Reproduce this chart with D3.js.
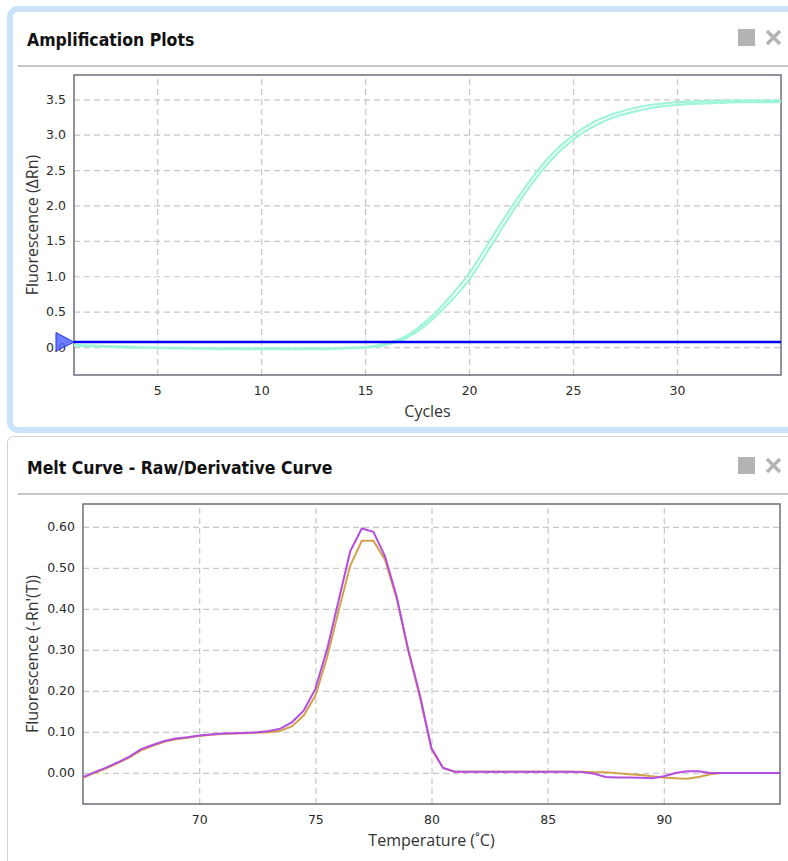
<!DOCTYPE html>
<html>
<head>
<meta charset="utf-8">
<script src="https://cdn.jsdelivr.net/npm/d3@7"></script>
<style>
  body { margin: 0; background: #fff; }
  .tick text { font-family: "DejaVu Sans", sans-serif; font-size: 12.5px; fill: #2a2a2a; }
  .grid line { stroke: #c8c8c8; stroke-width: 1.2; stroke-dasharray: 6,4; }
  .grid path, .axis path { display: none; }
  .axis line { display: none; }
  .title { font-family: "DejaVu Sans Condensed", "DejaVu Sans", sans-serif; font-weight: bold; font-size: 17.5px; fill: #111; }
  .atitle { font-family: "Open Sans", sans-serif; font-size: 16px; fill: #333; }
</style>
</head>
<body>
<svg id="chart" width="788" height="861"></svg>
<script>
// amplification data
const cycles = [1,2,3,4,5,6,7,8,9,10,11,12,13,14,15,16,17,18,19,20,21,22,23,24,25,26,27,28,29,30,31,32,33,34,35];
const wellA = [0.03,0.02,0.01,0.0,-0.01,-0.01,-0.02,-0.02,-0.02,-0.02,-0.02,-0.02,-0.02,-0.01,0.0,0.05,0.16,0.38,0.68,1.04,1.50,1.96,2.38,2.73,2.99,3.18,3.30,3.38,3.43,3.46,3.47,3.48,3.48,3.48,3.48];
const wellB = [0.02,0.01,0.0,-0.01,-0.01,-0.02,-0.02,-0.03,-0.03,-0.03,-0.03,-0.03,-0.03,-0.02,-0.01,0.03,0.13,0.33,0.61,0.95,1.40,1.87,2.30,2.66,2.93,3.12,3.25,3.33,3.39,3.42,3.44,3.45,3.46,3.46,3.46];
const threshold = 0.07;
const ampXTicks = [5,10,15,20,25,30];
const ampYTicks = [0.0,0.5,1.0,1.5,2.0,2.5,3.0,3.5];

// melt curve data
const temps = [65,65.5,66,66.5,67,67.5,68,68.5,69,69.5,70,70.5,71,71.5,72,72.5,73,73.5,74,74.5,
  75,75.5,76,76.5,77,77.5,78,78.5,79,79.5,80,80.5,81,81.5,82,82.5,83,83.5,84,84.5,
  85,85.5,86,86.5,87,87.5,88,88.5,89,89.5,90,90.5,91,91.5,92,92.5,93,93.5,94,94.5,95];
const meltPurple = [-0.010,0.002,0.013,0.026,0.040,0.058,0.068,0.078,0.084,0.087,
  0.091,0.094,0.096,0.097,0.098,0.099,0.102,0.108,0.124,0.152,
  0.205,0.300,0.420,0.540,0.596,0.588,0.528,0.430,0.300,0.190,
  0.060,0.012,0.003,0.003,0.003,0.003,0.003,0.003,0.003,0.003,
  0.003,0.003,0.003,0.002,-0.002,-0.010,-0.011,-0.011,-0.012,-0.013,
  -0.008,0.000,0.004,0.004,0.000,0.000,0.000,0.000,0.000,0.000,0.000];
const meltGold = [-0.012,0.000,0.011,0.024,0.038,0.055,0.066,0.076,0.082,0.086,
  0.090,0.093,0.095,0.096,0.097,0.098,0.099,0.103,0.114,0.140,
  0.188,0.280,0.395,0.505,0.566,0.566,0.520,0.425,0.298,0.185,
  0.058,0.012,0.003,0.003,0.003,0.003,0.003,0.003,0.003,0.003,
  0.003,0.003,0.003,0.003,0.002,0.002,-0.001,-0.003,-0.005,-0.008,
  -0.011,-0.013,-0.014,-0.010,-0.003,0.000,0.000,0.000,0.000,0.000,0.000];
const meltXTicks = [70,75,80,85,90];
const meltYTicks = [0.0,0.1,0.2,0.3,0.4,0.5,0.6];

const svg = d3.select('#chart');

// panel frames
svg.append('rect')
  .attr('x', 10).attr('y', 9).attr('width', 800).attr('height', 421)
  .attr('rx', 8)
  .attr('fill', '#fff').attr('stroke', '#cbe3fa').attr('stroke-width', 6);
svg.append('rect')
  .attr('x', 7.5).attr('y', 436.5).attr('width', 800).attr('height', 440)
  .attr('rx', 6)
  .attr('fill', '#fff').attr('stroke', '#d2d2d2').attr('stroke-width', 1);

function header(y, label) {
  svg.append('text').attr('class', 'title')
    .attr('x', 27).attr('y', y).text(label);
  svg.append('line')
    .attr('x1', 18).attr('x2', 788).attr('y1', y + 20).attr('y2', y + 20)
    .attr('stroke', '#c6c6c6').attr('stroke-width', 2);
  // window icons
  svg.append('rect')
    .attr('x', 738).attr('y', y - 17).attr('width', 17).attr('height', 17)
    .attr('fill', '#b4b4b4');
  svg.append('path')
    .attr('d', `M${767},${y - 15} L${780},${y - 2} M${780},${y - 15} L${767},${y - 2}`)
    .attr('stroke', '#b4b4b4').attr('stroke-width', 3.5);
}
header(46, 'Amplification Plots');
header(474, 'Melt Curve - Raw/Derivative Curve');

function plot(box, xDomain, yDomain, xTicks, yTicks, fmt, xLabel, yLabel, yLabelX, clipId) {
  const x = d3.scaleLinear().domain(xDomain).range([box.left, box.right]);
  const y = d3.scaleLinear().domain(yDomain).range([box.bottom, box.top]);

  svg.append('g').attr('class', 'grid')
    .attr('transform', `translate(0,${box.bottom})`)
    .call(d3.axisBottom(x).tickValues(xTicks).tickSize(-(box.bottom - box.top)).tickFormat(''));
  svg.append('g').attr('class', 'grid')
    .attr('transform', `translate(${box.left},0)`)
    .call(d3.axisLeft(y).tickValues(yTicks).tickSize(-(box.right - box.left)).tickFormat(''));

  svg.append('g').attr('class', 'axis')
    .attr('transform', `translate(0,${box.bottom})`)
    .call(d3.axisBottom(x).tickValues(xTicks).tickSize(0).tickPadding(11).tickFormat(d3.format('d')));
  svg.append('g').attr('class', 'axis')
    .attr('transform', `translate(${box.left},0)`)
    .call(d3.axisLeft(y).tickValues(yTicks).tickSize(0).tickPadding(8).tickFormat(d3.format(fmt)));

  svg.append('rect')
    .attr('x', box.left).attr('y', box.top)
    .attr('width', box.right - box.left).attr('height', box.bottom - box.top)
    .attr('fill', 'none').attr('stroke', '#6e6e7c').attr('stroke-width', 1.5);

  svg.append('clipPath').attr('id', clipId)
    .append('rect')
    .attr('x', box.left).attr('y', box.top)
    .attr('width', box.right - box.left).attr('height', box.bottom - box.top);

  svg.append('text').attr('class', 'atitle')
    .attr('x', (box.left + box.right) / 2).attr('y', box.bottom + 42)
    .attr('text-anchor', 'middle').text(xLabel);
  svg.append('text').attr('class', 'atitle')
    .attr('transform', `translate(${yLabelX},${(box.top + box.bottom) / 2}) rotate(-90)`)
    .attr('text-anchor', 'middle').text(yLabel);

  return { x, y };
}

// amplification plot
const amp = plot({ left: 74, right: 781, top: 75, bottom: 375 }, [1, 35], [-0.395, 3.843],
  ampXTicks, ampYTicks, '.1f', 'Cycles', 'Fluorescence (ΔRn)', 38, 'clipAmp');

const ampLine = d3.line()
  .x((d, i) => amp.x(cycles[i]))
  .y(d => amp.y(d))
  .curve(d3.curveMonotoneX);

const ampG = svg.append('g').attr('clip-path', 'url(#clipAmp)');
[wellB, wellA].forEach(s => {
  ampG.append('path')
    .datum(s)
    .attr('d', ampLine)
    .attr('fill', 'none')
    .attr('stroke', '#9ff4d9')
    .attr('stroke-width', 2.2);
});

ampG.append('line')
  .attr('x1', amp.x(1)).attr('x2', amp.x(35))
  .attr('y1', amp.y(threshold)).attr('y2', amp.y(threshold))
  .attr('stroke', '#0000f0').attr('stroke-width', 2.5);

const ty = amp.y(threshold);
svg.append('path')
  .attr('d', `M56,${ty - 9.5} L74,${ty} L56,${ty + 9}Z`)
  .attr('fill', '#5566ff').attr('fill-opacity', 0.85)
  .attr('stroke', '#2233ee').attr('stroke-width', 1);

// melt curve plot
const melt = plot({ left: 83, right: 780, top: 504, bottom: 804 }, [65, 95], [-0.0757, 0.6556],
  meltXTicks, meltYTicks, '.2f', 'Temperature (˚C)', "Fluorescence (-Rn'(T))", 38, 'clipMelt');

const meltLine = d3.line()
  .x((d, i) => melt.x(temps[i]))
  .y(d => melt.y(d));

const meltG = svg.append('g').attr('clip-path', 'url(#clipMelt)');
meltG.append('path')
  .datum(meltGold)
  .attr('d', meltLine)
  .attr('fill', 'none')
  .attr('stroke', '#d2a24a')
  .attr('stroke-width', 2);
meltG.append('path')
  .datum(meltPurple)
  .attr('d', meltLine)
  .attr('fill', 'none')
  .attr('stroke', '#b54ee0')
  .attr('stroke-width', 2);
</script>
</body>
</html>
